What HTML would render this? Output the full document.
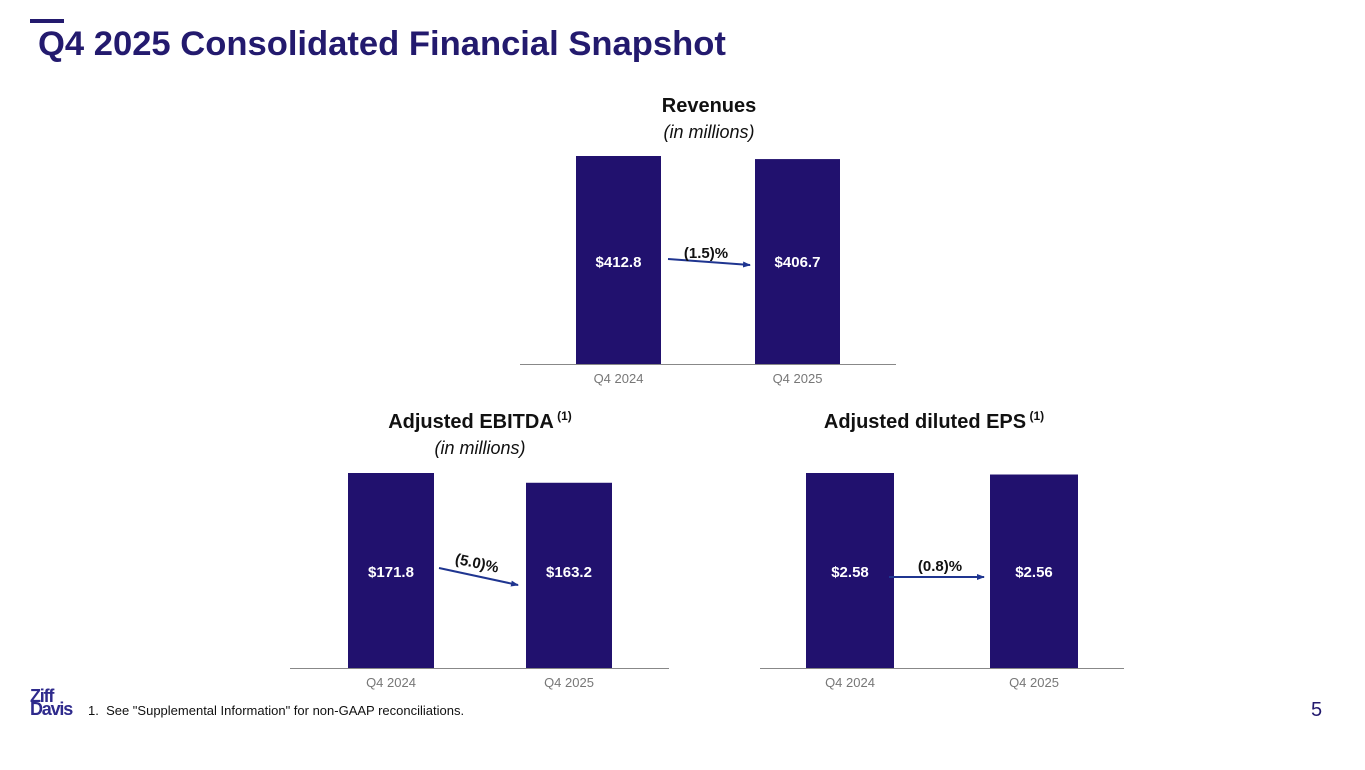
<!DOCTYPE html>
<html><head><meta charset="utf-8">
<style>
body{margin:0;width:1365px;height:770px;background:#fff;font-family:"Liberation Sans",sans-serif;position:relative;overflow:hidden}
.abs{position:absolute}
</style></head>
<body>
<div class="abs" style="left:30px;top:19px;width:34px;height:4px;background:#231a6e"></div>
<div class="abs" style="left:38px;top:25px;font-size:34.6px;font-weight:bold;color:#231a6e">Q4 2025 Consolidated Financial Snapshot</div>
<svg class="abs" style="left:0;top:0" width="1365" height="770" id="charts"></svg>
<div class="abs" style="left:30px;top:690px;color:#2e2a8c;font-weight:bold;font-size:18px;line-height:13px;letter-spacing:-1.2px">Ziff<br>Davis</div>
<div class="abs" style="left:88px;top:703px;font-size:13px;color:#111">1.&nbsp;&nbsp;See "Supplemental Information" for non-GAAP reconciliations.</div>
<div class="abs" style="left:1311px;top:699px;font-size:20px;color:#231a6e">5</div>
<script>
const categories = ["Q4 2024","Q4 2025"];
const revenueValues = [412.8, 406.7];
const revenueLabels = ["$412.8","$406.7"];
const ebitdaValues = [171.8, 163.2];
const ebitdaLabels = ["$171.8","$163.2"];
const epsValues = [2.58, 2.56];
const epsLabels = ["$2.58","$2.56"];
const changeLabels = ["(1.5)%","(5.0)%","(0.8)%"];

const NS="http://www.w3.org/2000/svg";
const svg=document.getElementById('charts');
function mk(tag,attrs,text){const e=document.createElementNS(NS,tag);for(const k in attrs)e.setAttribute(k,attrs[k]);if(text!==undefined)e.textContent=text;svg.appendChild(e);return e;}
const defs=mk('defs',{});
const mkr=document.createElementNS(NS,'marker');
mkr.setAttribute('id','ah');mkr.setAttribute('markerWidth','8');mkr.setAttribute('markerHeight','8');mkr.setAttribute('refX','7');mkr.setAttribute('refY','4');mkr.setAttribute('orient','auto');mkr.setAttribute('markerUnits','userSpaceOnUse');
const mp=document.createElementNS(NS,'path');mp.setAttribute('d','M0,1 L8,4 L0,7 Z');mp.setAttribute('fill','#1f3590');mkr.appendChild(mp);defs.appendChild(mkr);

function chart(cfg){
  const maxV=Math.max(...cfg.values);
  const y=v=>cfg.base - v/maxV*cfg.maxH;
  const al=mk('line',{x1:cfg.axis[0],x2:cfg.axis[1],y1:cfg.base+0.5,y2:cfg.base+0.5,stroke:'#888','stroke-width':1});
  
  
  cfg.values.forEach((v,i)=>{
    const x=cfg.xs[i];
    const r=mk('rect',{x:x,y:y(v),width:cfg.w,height:cfg.base-y(v),fill:'#21116e'});
    
    
    const t=mk('text',{x:x+cfg.w/2,y:cfg.labelY,'text-anchor':'middle','font-size':15,'font-weight':'bold',fill:'#fff'},cfg.labels[i]);
    
    
    const c=mk('text',{x:x+cfg.w/2,y:cfg.base+19,'text-anchor':'middle','font-size':13,fill:'#777'},categories[i]);
    
    
  });
  const a=cfg.arrow;
  const ar=mk('line',{x1:a[0],y1:a[1],x2:a[2],y2:a[3],stroke:'#1f3590','stroke-width':2,'marker-end':'url(#ah)'});
  
  
  const ct=mk('text',{x:cfg.ct[0],y:cfg.ct[1],'text-anchor':'middle','font-size':15,'font-weight':'bold',fill:'#111',transform:cfg.ct[2]?`rotate(${cfg.ct[2]} ${cfg.ct[0]} ${cfg.ct[1]})`:''},cfg.change);
  
  
  const tt=mk('text',{x:cfg.title[0],y:cfg.title[1],'text-anchor':'middle','font-size':20,'font-weight':'bold',fill:'#111'},cfg.titleText);
  
  
  if(cfg.sup){const s=document.createElementNS(NS,'tspan');s.setAttribute('font-size','12');s.setAttribute('dy','-8');s.textContent=' (1)';tt.appendChild(s);}
  if(cfg.sub){const st=mk('text',{x:cfg.title[0],y:cfg.title[1]+26,'text-anchor':'middle','font-size':18,'font-style':'italic',fill:'#111'},'(in millions)');
    
    }
}
chart({name:'revenues',values:revenueValues,labels:revenueLabels,xs:[576,755],w:85,base:364,maxH:208,axis:[520,896],labelY:267,arrow:[668,259,750,265],ct:[706,258,0],change:changeLabels[0],title:[709,112],titleText:'Revenues',sub:true,sup:false});
chart({name:'ebitda',values:ebitdaValues,labels:ebitdaLabels,xs:[348,526],w:86,base:668,maxH:195,axis:[290,669],labelY:577,arrow:[439,568,518,585],ct:[476,568,12],change:changeLabels[1],title:[480,428],titleText:'Adjusted EBITDA',sub:true,sup:true});
chart({name:'eps',values:epsValues,labels:epsLabels,xs:[806,990],w:88,base:668,maxH:195,axis:[760,1124],labelY:577,arrow:[889,577,984,577],ct:[940,571,0],change:changeLabels[2],title:[934,428],titleText:'Adjusted diluted EPS',sub:false,sup:true});
</script>
</body></html>
